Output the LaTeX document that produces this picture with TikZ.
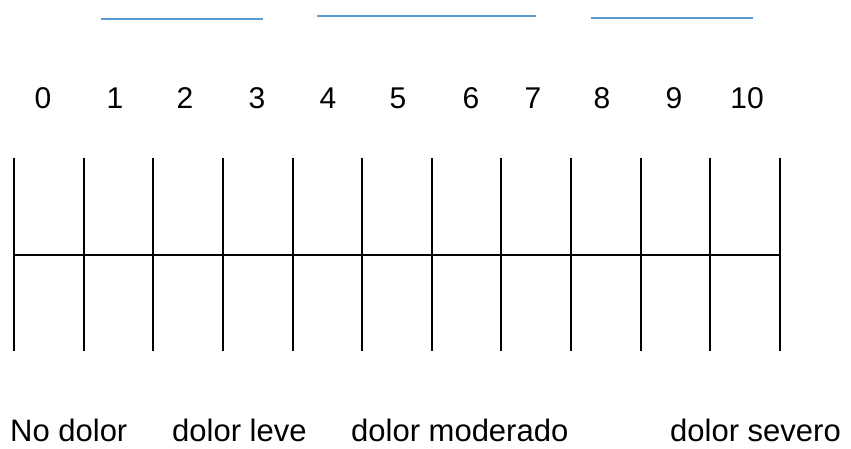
\documentclass[tikz,border=0pt]{standalone}
\usepackage{fontspec}
\setmainfont{Liberation Sans}
\usetikzlibrary{positioning}
\definecolor{blankcolor}{HTML}{5B9BD5}

\begin{document}
\begin{tikzpicture}[x=1pt, y=-1pt,
  blankline/.style={draw=blankcolor, line width=1.8pt},
  scaleline/.style={draw=black, line width=2pt},
  num/.style={font=\fontsize{30}{34}\selectfont, inner sep=0pt},
  painlabel/.style={font=\fontsize{31}{36}\selectfont, inner sep=0pt, anchor=base west}
]
  \useasboundingbox (0,0) rectangle (851,448);

  % blank lines at the top
  \coordinate (b1l) at (101,19);  \coordinate (b1r) at (263,19);
  \coordinate (b2l) at (317,16);  \coordinate (b2r) at (536,16);
  \coordinate (b3l) at (591,18);  \coordinate (b3r) at (753,18);
  \draw[blankline] (b1l) -- (b1r);
  \draw[blankline] (b2l) -- (b2r);
  \draw[blankline] (b3l) -- (b3r);

  % numbers
  \foreach \n/\x in {0/43, 1/115, 2/185, 3/257, 4/328, 5/398,
                     6/471, 7/533, 8/602, 9/674, 10/747}
    \node[num] (n\n) at (\x,98) {\n};

  % scale
  \foreach \i in {0,...,11} {
    \coordinate (top\i) at ({14+69.64*\i},158);
    \coordinate (mid\i) at ({14+69.64*\i},254.5);
    \coordinate (bot\i) at ({14+69.64*\i},351);
    \draw[scaleline] (top\i) -- (bot\i);
  }
  \draw[scaleline] (mid0) -- (mid11);

  % labels
  \node[painlabel] (none) at (10,441)  {No dolor};
  \node[painlabel] (mild) at (172,441) {dolor leve};
  \node[painlabel] (mod)  at (351,441) {dolor moderado};
  \node[painlabel] (sev)  at (670,441) {dolor severo};
\end{tikzpicture}
\end{document}
